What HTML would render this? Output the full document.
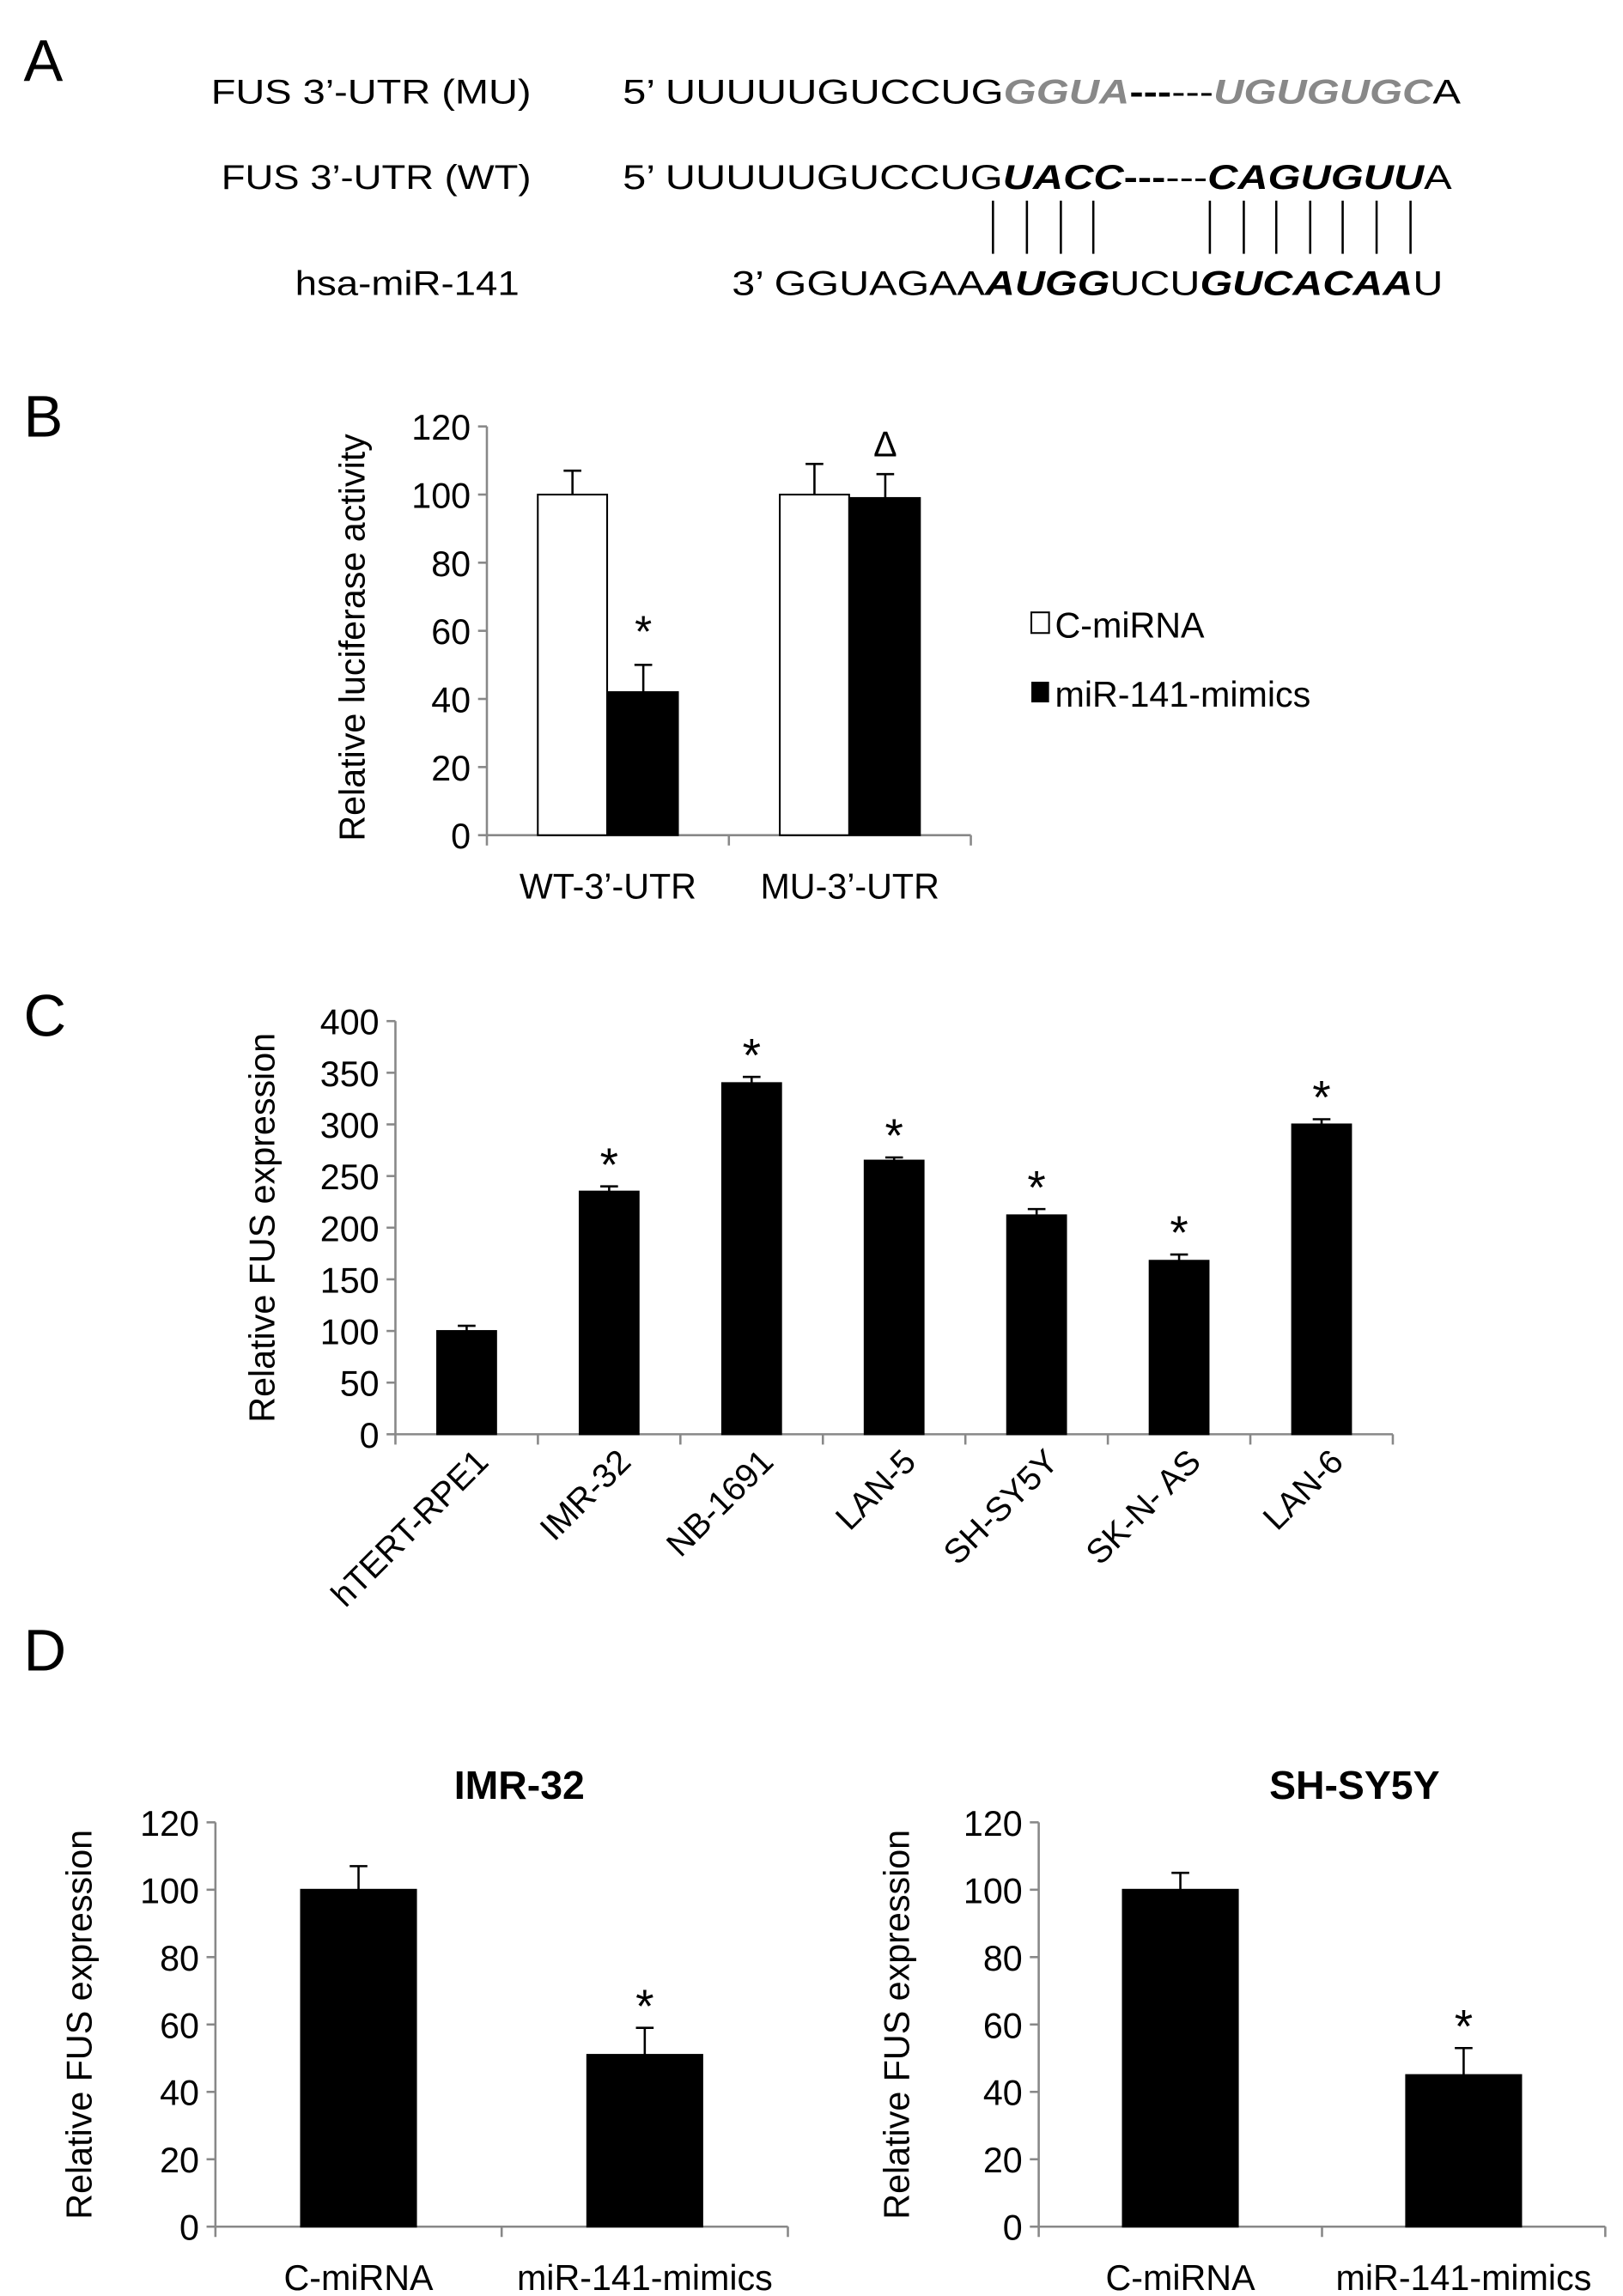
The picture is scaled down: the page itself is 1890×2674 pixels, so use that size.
<!DOCTYPE html>
<html><head><meta charset="utf-8"><style>
html,body{margin:0;padding:0;background:#fff}
svg{display:block}
text{font-family:"Liberation Sans",Arial,sans-serif;fill:#000}
</style></head><body>
<svg id="fig" width="1890" height="2674" viewBox="0 0 1100 1556" preserveAspectRatio="none" xmlns="http://www.w3.org/2000/svg">
<g id="panelA" font-size="23">
<text x="16" y="55" font-size="40">A</text>
<text x="143" y="70" textLength="217" lengthAdjust="spacingAndGlyphs">FUS 3’-UTR (MU)</text>
<text x="150" y="128" textLength="210" lengthAdjust="spacingAndGlyphs">FUS 3’-UTR (WT)</text>
<text x="200" y="200" textLength="152" lengthAdjust="spacingAndGlyphs">hsa-miR-141</text>
<text x="422" y="70" textLength="568" lengthAdjust="spacingAndGlyphs">5’ UUUUUGUCCUG<tspan fill="#888" font-weight="bold" font-style="italic">GGUA</tspan><tspan font-weight="bold">---</tspan>---<tspan fill="#888" font-weight="bold" font-style="italic">UGUGUGC</tspan>A</text>
<text x="422" y="128" textLength="562" lengthAdjust="spacingAndGlyphs">5’ UUUUUGUCCUG<tspan font-weight="bold" font-style="italic">UACC</tspan><tspan font-weight="bold">---</tspan>---<tspan font-weight="bold" font-style="italic">CAGUGUU</tspan>A</text>
<text x="496" y="200" textLength="482" lengthAdjust="spacingAndGlyphs">3’ GGUAGAA<tspan font-weight="bold" font-style="italic">AUGG</tspan>UCU<tspan font-weight="bold" font-style="italic">GUCACAA</tspan>U</text>
<g stroke="#000" stroke-width="1.5">
<line x1="673" y1="136" x2="673" y2="172"/><line x1="696" y1="136" x2="696" y2="172"/><line x1="719" y1="136" x2="719" y2="172"/><line x1="741" y1="136" x2="741" y2="172"/>
<line x1="820" y1="136" x2="820" y2="172"/><line x1="843" y1="136" x2="843" y2="172"/><line x1="865" y1="136" x2="865" y2="172"/><line x1="888" y1="136" x2="888" y2="172"/><line x1="910" y1="136" x2="910" y2="172"/><line x1="933" y1="136" x2="933" y2="172"/><line x1="956" y1="136" x2="956" y2="172"/>
</g>
</g>
<text x="16" y="296" font-size="40">B</text>
<text x="16" y="702" font-size="40">C</text>
<text x="16" y="1132" font-size="40">D</text>
<g id="charts"></g>
</svg>
<script>
// Panel B data
const bCategories = ["WT-3’-UTR", "MU-3’-UTR"];
const bControl = [100, 100];
const bControlErr = [107, 109];
const bMimic = [42, 99];
const bMimicErr = [50, 106];
const bTicks = [0, 20, 40, 60, 80, 100, 120];
const bMarks = ["*", "Δ"];
// Panel C data
const cCategories = ["hTERT-RPE1", "IMR-32", "NB-1691", "LAN-5", "SH-SY5Y", "SK-N- AS", "LAN-6"];
const cValues = [100, 235, 340, 265, 212, 168, 300];
const cErr = [105, 240, 346, 268, 218, 174, 305];
const cStars = [false, true, true, true, true, true, true];
const cTicks = [0, 50, 100, 150, 200, 250, 300, 350, 400];
// Panel D data
const dCategories = ["C-miRNA", "miR-141-mimics"];
const dImrValues = [100, 51];
const dImrErr = [107, 59];
const dShValues = [100, 45];
const dShErr = [105, 53];
const dTicks = [0, 20, 40, 60, 80, 100, 120];

const NS = "http://www.w3.org/2000/svg";
const root = document.getElementById("charts");
function mk(tag, attrs, parent, txt) {
  const e = document.createElementNS(NS, tag);
  for (const k in attrs) e.setAttribute(k, attrs[k]);
  if (txt !== undefined) e.textContent = txt;
  (parent || root).appendChild(e);
  return e;
}
function scale(d0, d1, r0, r1) { return v => r0 + (v - d0) * (r1 - r0) / (d1 - d0); }

function axes(g, x0, x1, yTop, yBot, ticks, y, ncat, name) {
  const ax = mk("line", {x1: x0, y1: yTop, x2: x0, y2: yBot, stroke: "#888", "stroke-width": 1.5}, g);
  
  
  const bx = mk("line", {x1: x0, y1: yBot, x2: x1, y2: yBot, stroke: "#888", "stroke-width": 1.5}, g);
  
  
  ticks.forEach(t => {
    const yy = y(t);
    mk("line", {x1: x0 - 6, y1: yy, x2: x0, y2: yy, stroke: "#888", "stroke-width": 1.5}, g);
    const tl = mk("text", {x: x0 - 11, y: yy + 9, "text-anchor": "end", "font-size": 24}, g, t);
    
    
  });
  const w = (x1 - x0) / ncat;
  for (let i = 0; i <= ncat; i++) mk("line", {x1: x0 + i * w, y1: yBot, x2: x0 + i * w, y2: yBot + 7, stroke: "#888", "stroke-width": 1.5}, g);
}
function bar(g, cx, w, v, y, fill, name) {
  const r = mk("rect", {x: cx - w / 2, y: y(v), width: w, height: y(0) - y(v), fill: fill, stroke: "#000", "stroke-width": 1.2}, g);
  
  
}
function err(g, cx, v, e, y) {
  mk("line", {x1: cx, y1: y(v), x2: cx, y2: y(e), stroke: "#000", "stroke-width": 1.5}, g);
  mk("line", {x1: cx - 6, y1: y(e), x2: cx + 6, y2: y(e), stroke: "#000", "stroke-width": 1.5}, g);
}
function ylabel(g, x, cy, txt, name) {
  const t = mk("text", {x: x, y: cy, transform: `rotate(-90 ${x} ${cy})`, "text-anchor": "middle", "font-size": 24}, g, txt);
  
  
}

// Panel B
{
  const g = mk("g", {});
  
  
  const x0 = 330, x1 = 658, y = scale(0, 120, 566, 289);
  axes(g, x0, x1, 289, 566, bTicks, y, 2, "b");
  const w = (x1 - x0) / 2;
  bCategories.forEach((c, i) => {
    const cx = x0 + w * (i + 0.5);
    bar(g, cx - 24, 47, bControl[i], y, "#fff", "b-control-bar");
    err(g, cx - 24, bControl[i], bControlErr[i], y);
    bar(g, cx + 24, 47, bMimic[i], y, "#000", "b-mimic-bar");
    err(g, cx + 24, bMimic[i], bMimicErr[i], y);
    const m = mk("text", {x: cx + 24, y: y(bMimicErr[i]) - 12, "text-anchor": "middle", "font-size": i === 0 ? 30 : 24}, g, bMarks[i]);
    
    
    const xl = mk("text", {x: cx, y: 609, "text-anchor": "middle", "font-size": 24}, g, c);
    
    
  });
  ylabel(g, 247, 432, "Relative luciferase activity", "b-y-axis-title");
  const l1 = mk("rect", {x: 699, y: 415, width: 12, height: 14, fill: "#fff", stroke: "#000", "stroke-width": 1.2}, g);
  
  
  const t1 = mk("text", {x: 715, y: 432, "font-size": 24}, g, "C-miRNA");
  
  
  const l2 = mk("rect", {x: 699, y: 462, width: 12, height: 14, fill: "#000"}, g);
  
  
  const t2 = mk("text", {x: 715, y: 479, "font-size": 24}, g, "miR-141-mimics");
  
  
}

// Panel C
{
  const g = mk("g", {});
  
  
  const x0 = 268, x1 = 944, y = scale(0, 400, 972, 692);
  axes(g, x0, x1, 692, 972, cTicks, y, cCategories.length, "c");
  const w = (x1 - x0) / cCategories.length;
  cCategories.forEach((c, i) => {
    const cx = x0 + w * (i + 0.5);
    bar(g, cx, 40, cValues[i], y, "#000", "c-bar");
    err(g, cx, cValues[i], cErr[i], y);
    if (cStars[i]) {
      const s = mk("text", {x: cx, y: y(cErr[i]) - 4, "text-anchor": "middle", "font-size": 32}, g, "*");
      
      
    }
    const lx = cx + 16, ly = 992;
    const xl = mk("text", {x: lx, y: ly, "text-anchor": "end", "font-size": 23, transform: `rotate(-45 ${lx} ${ly})`}, g, c);
    
    
  });
  ylabel(g, 186, 832, "Relative FUS expression", "c-y-axis-title");
}

// Panel D
function dChart(x0, x1, vals, errs, title, titleX, ylx, name) {
  const g = mk("g", {});
  
  
  const y = scale(0, 120, 1509, 1235);
  axes(g, x0, x1, 1235, 1509, dTicks, y, 2, name);
  const w = (x1 - x0) / 2;
  dCategories.forEach((c, i) => {
    const cx = x0 + w * (i + 0.5);
    bar(g, cx, 78, vals[i], y, "#000", name + "-bar");
    err(g, cx, vals[i], errs[i], y);
    if (i === 1) {
      const s = mk("text", {x: cx, y: y(errs[i]) - 4, "text-anchor": "middle", "font-size": 32}, g, "*");
      
      
    }
    const xl = mk("text", {x: cx, y: 1552, "text-anchor": "middle", "font-size": 24}, g, c);
    
    
  });
  const t = mk("text", {x: titleX, y: 1219, "text-anchor": "middle", "font-size": 27, "font-weight": "bold"}, g, title);
  
  
  ylabel(g, ylx, 1372, "Relative FUS expression", name + "-y-axis-title");
}
dChart(146, 534, dImrValues, dImrErr, "IMR-32", 352, 62, "d-imr32-chart");
dChart(704, 1088, dShValues, dShErr, "SH-SY5Y", 918, 616, "d-shsy5y-chart");
</script>
</body></html>
